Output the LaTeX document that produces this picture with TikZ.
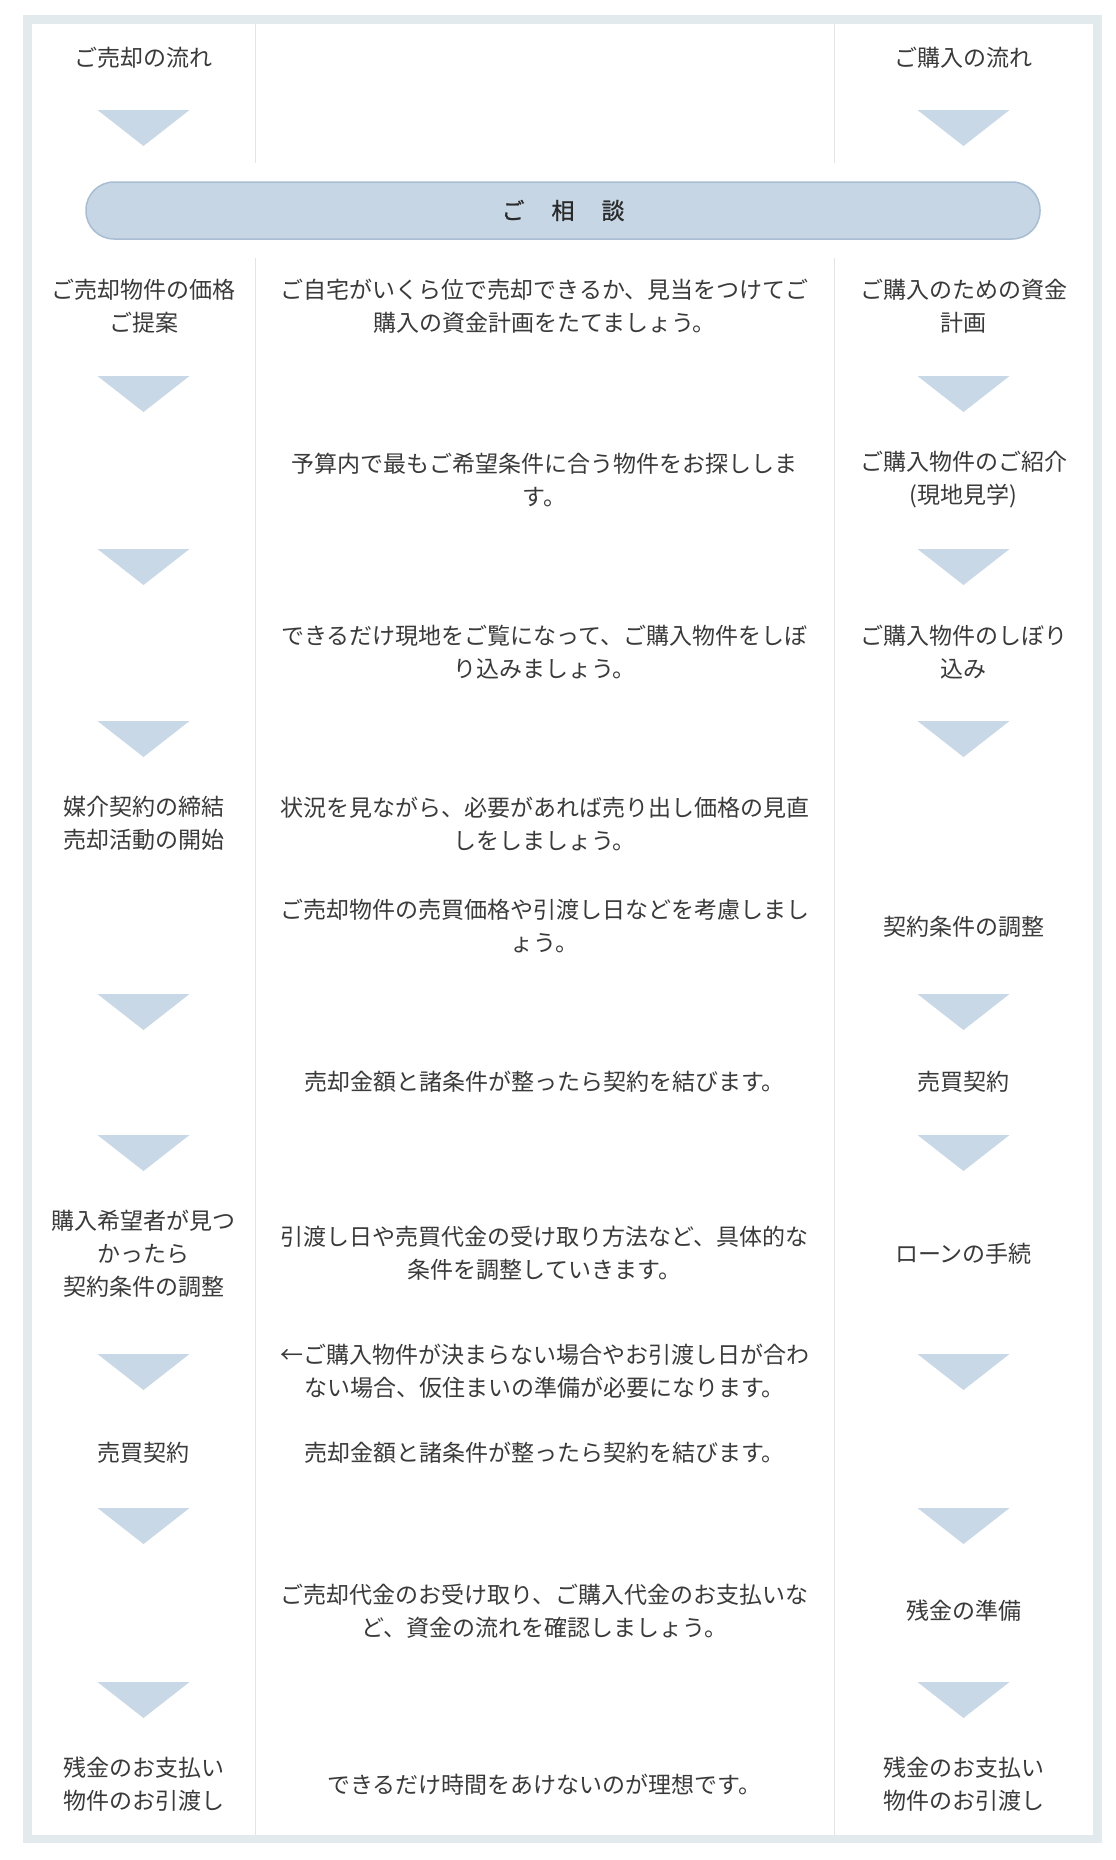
\documentclass[tikz,border=0pt]{standalone}
\usepackage{fontspec}
\setmainfont{Noto Sans CJK JP}
\definecolor{framec}{HTML}{E2EAED}
\definecolor{dividerc}{HTML}{E4E4E4}
\definecolor{arrowc}{HTML}{C8D8E6}
\definecolor{barfill}{HTML}{C6D6E5}
\definecolor{barline}{HTML}{A8BDD2}
\definecolor{txtc}{HTML}{3A3A3A}
\definecolor{bartxt}{HTML}{2A2A2A}
\newcommand\dtri[2]{\fill[tri] (#1-46,#2) -- (#1+46,#2) -- (#1,#2+36) -- cycle;}
\begin{document}
\begin{tikzpicture}[x=1pt,y=-1pt,
  lbl/.style={inner sep=0pt, align=center, text=txtc, font=\fontsize{23}{33}\selectfont},
  tri/.style={fill=arrowc},
  divline/.style={draw=dividerc, line width=1pt}]
\useasboundingbox (0,0) rectangle (1116,1860);
% frame
\fill[framec] (23,15) rectangle (1102,1843);
\fill[white] (32,24) rectangle (1093,1835);
% column dividers
\draw[divline] (255,24) -- (255,163);
\draw[divline] (255,258) -- (255,1835);
\draw[divline] (834,24) -- (834,163);
\draw[divline] (834,258) -- (834,1835);
% consultation bar
\node[lbl, draw=barline, fill=barfill, line width=1.5pt, rounded corners=28pt,
      minimum width=954pt, minimum height=57pt, text=bartxt,
      font=\fontsize{23}{33}\selectfont\addfontfeature{FakeBold=0.8}] (bar) at (563,210.5) {ご　\kern4pt相　\kern4pt談};
% arrows
\foreach \yy in {110,376,549,721,994,1135,1354,1508,1682}{
  \dtri{143.5}{\yy}
  \dtri{963.5}{\yy}
}
% left column
\node[lbl] (L0) at (143.5,58) {ご売却の流れ};
\node[lbl] (L1) at (143.5,306.5) {ご売却物件の価格\\ご提案};
\node[lbl] (L2) at (143.5,823.5) {媒介契約の締結\\売却活動の開始};
\node[lbl] (L3) at (143.5,1254) {購入希望者が見つ\\かったら\\契約条件の調整};
\node[lbl] (L4) at (143.5,1453) {売買契約};
\node[lbl] (L5) at (143.5,1784.5) {残金のお支払い\\物件のお引渡し};
% middle column
\node[lbl] (M1) at (544.5,306.5) {ご自宅がいくら位で売却できるか、見当をつけてご\\購入の資金計画をたてましょう。};
\node[lbl] (M2) at (544.5,479.5) {予算内で最もご希望条件に合う物件をお探ししま\\す。};
\node[lbl] (M3) at (544.5,652.5) {できるだけ現地をご覧になって、ご購入物件をしぼ\\り込みましょう。};
\node[lbl] (M4) at (544.5,823.5) {状況を見ながら、必要があれば売り出し価格の見直\\しをしましょう。};
\node[lbl] (M5) at (544.5,926.5) {ご売却物件の売買価格や引渡し日などを考慮しまし\\ょう。};
\node[lbl] (M6) at (544.5,1082) {売却金額と諸条件が整ったら契約を結びます。};
\node[lbl] (M7) at (544.5,1253.5) {引渡し日や売買代金の受け取り方法など、具体的な\\条件を調整していきます。};
\node[lbl] (M8) at (544.5,1371.5) {←ご購入物件が決まらない場合やお引渡し日が合わ\\ない場合、仮住まいの準備が必要になります。};
\node[lbl] (M9) at (544.5,1453) {売却金額と諸条件が整ったら契約を結びます。};
\node[lbl] (M10) at (544.5,1611.5) {ご売却代金のお受け取り、ご購入代金のお支払いな\\ど、資金の流れを確認しましょう。};
\node[lbl] (M11) at (544.5,1784.5) {できるだけ時間をあけないのが理想です。};
% right column
\node[lbl] (R0) at (963.5,58) {ご購入の流れ};
\node[lbl] (R1) at (963.5,306.5) {ご購入のための資金\\計画};
\node[lbl] (R2) at (963.5,479.5) {ご購入物件のご紹介\\(現地見学)};
\node[lbl] (R3) at (963.5,652.5) {ご購入物件のしぼり\\込み};
\node[lbl] (R4) at (963.5,926.5) {契約条件の調整};
\node[lbl] (R5) at (963.5,1082) {売買契約};
\node[lbl] (R6) at (963.5,1254) {ローンの手続};
\node[lbl] (R7) at (963.5,1611) {残金の準備};
\node[lbl] (R8) at (963.5,1784.5) {残金のお支払い\\物件のお引渡し};
\end{tikzpicture}
\end{document}
